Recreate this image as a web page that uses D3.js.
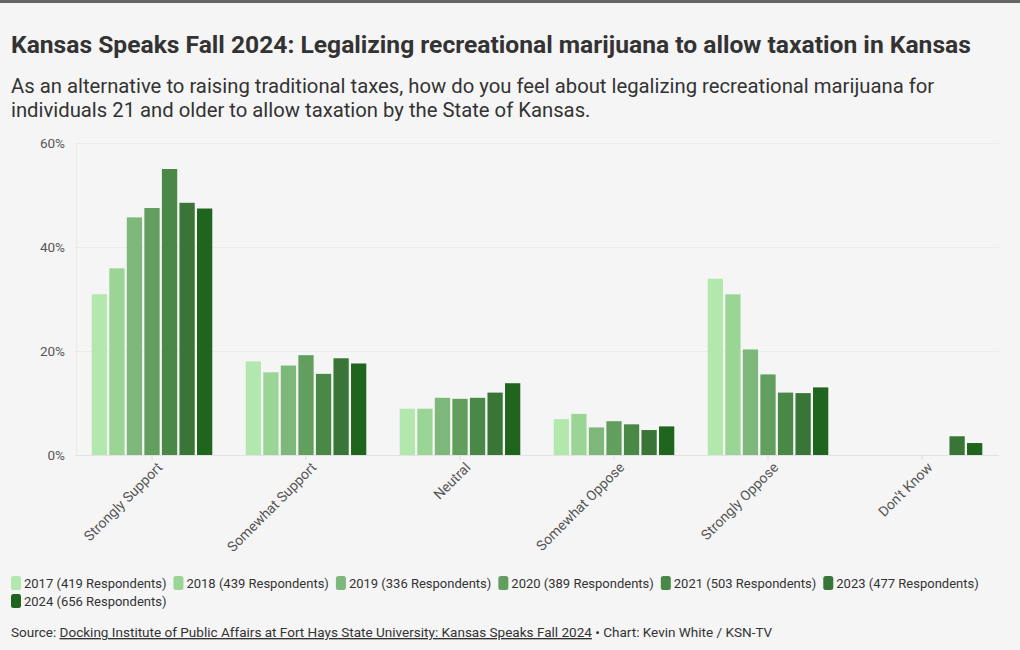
<!DOCTYPE html>
<html>
<head>
<meta charset="utf-8">
<script src="https://cdn.jsdelivr.net/npm/d3@7"></script>
<style>
  html, body { margin: 0; padding: 0; background: #f5f5f5; }
  svg { display: block; font-family: Roboto, "Noto Sans", sans-serif; }
</style>
</head>
<body>
<svg id="chart" width="1020" height="650"></svg>
<script>
const categories = ["Strongly Support", "Somewhat Support", "Neutral", "Somewhat Oppose", "Strongly Oppose", "Don't Know"];
const seriesNames = ["2017 (419 Respondents)", "2018 (439 Respondents)", "2019 (336 Respondents)", "2020 (389 Respondents)", "2021 (503 Respondents)", "2023 (477 Respondents)", "2024 (656 Respondents)"];
const seriesColors = ["#b2e8ae", "#9bd595", "#7eb77a", "#629e5e", "#4a8847", "#3a7538", "#20651d"];
// values per series, in category order (null = no bar)
const v2017 = [30.9, 18.0, 8.9, 6.9, 33.9, null];
const v2018 = [35.9, 15.9, 8.9, 7.9, 30.9, null];
const v2019 = [45.7, 17.2, 11.0, 5.3, 20.3, null];
const v2020 = [47.5, 19.2, 10.8, 6.5, 15.5, null];
const v2021 = [55.0, 15.6, 11.0, 5.9, 12.0, null];
const v2023 = [48.5, 18.6, 12.0, 4.8, 11.9, 3.6];
const v2024 = [47.4, 17.6, 13.8, 5.5, 13.0, 2.3];
const seriesValues = [v2017, v2018, v2019, v2020, v2021, v2023, v2024];
const yTicks = [0, 20, 40, 60];

const svg = d3.select("#chart");
const W = 1020, H = 650;

svg.append("rect").attr("width", W).attr("height", H).attr("fill", "#f5f5f5");
svg.append("rect").attr("width", W).attr("height", 3).attr("fill", "#666666");

function fitText(sel, target, maxSize) {
  let size = maxSize;
  sel.style("font-size", size + "px");
  const len = sel.node().getComputedTextLength();
  if (len > 0) {
    size = size * target / len;
    sel.style("font-size", size + "px");
  }
}

// Title
const title = svg.append("text").attr("x", 11).attr("y", 53)
  .attr("fill", "#333333").attr("font-weight", 700)
  .text("Kansas Speaks Fall 2024: Legalizing recreational marijuana to allow taxation in Kansas");
fitText(title, 960, 22);

const sub1 = svg.append("text").attr("x", 11).attr("y", 93).attr("fill", "#333333")
  .text("As an alternative to raising traditional taxes, how do you feel about legalizing recreational marijuana for");
fitText(sub1, 924, 18);
const sub2 = svg.append("text").attr("x", 11).attr("y", 117).attr("fill", "#333333")
  .style("font-size", sub1.style("font-size"))
  .text("individuals 21 and older to allow taxation by the State of Kansas.");

// Scales
const pLeft = 75, pRight = 999, pTop = 143, pBottom = 455;
const y = d3.scaleLinear().domain([0, 60]).range([pBottom, pTop]);
const x0 = d3.scaleBand().domain(categories).range([pLeft, pRight]).paddingInner(0.217).paddingOuter(0.1085);
const x1 = d3.scaleBand().domain(d3.range(seriesNames.length)).range([0, x0.bandwidth()]).paddingInner(0.13);

// Grid
const grid = svg.append("g");
grid.selectAll("line.h").data(yTicks).join("line")
  .attr("x1", pLeft).attr("x2", pRight)
  .attr("y1", d => y(d) + 0.5).attr("y2", d => y(d) + 0.5)
  .attr("stroke", d => d === 0 ? "#e2e2e2" : "#ebebeb").attr("stroke-width", 1);
grid.append("line").attr("x1", pLeft + 1.5).attr("x2", pLeft + 1.5).attr("y1", pTop).attr("y2", pBottom)
  .attr("stroke", "#ebebeb");

// Y axis labels
const yAxis = d3.axisLeft(y).tickValues(yTicks).tickFormat(d => d + "%").tickSize(0).tickPadding(0);
const yg = svg.append("g").attr("transform", `translate(65,0)`).call(yAxis);
yg.select(".domain").remove();
yg.selectAll("text").attr("fill", "#555555").style("font-size", "13.5px").style("font-family", "Roboto, sans-serif")
  .attr("dy", "0.35em");

// X axis
const xAxis = d3.axisBottom(x0).tickSize(5).tickPadding(4);
const xg = svg.append("g").attr("transform", `translate(0,${pBottom})`).call(xAxis);
xg.select(".domain").remove();
xg.selectAll(".tick line").attr("stroke", "#dcdcdc");
xg.selectAll("text")
  .attr("fill", "#555555").style("font-size", "14px").style("font-family", "Roboto, sans-serif")
  .attr("text-anchor", "end").attr("dy", "0")
  .attr("transform", "translate(5,7) rotate(-45)");

// Bars
const groups = svg.append("g").selectAll("g").data(categories).join("g")
  .attr("transform", d => `translate(${x0(d)},0)`);
groups.selectAll("rect")
  .data((c, ci) => seriesValues.map((vals, si) => ({ si, v: vals[ci] })).filter(d => d.v != null))
  .join("rect")
  .attr("x", d => x1(d.si))
  .attr("width", x1.bandwidth())
  .attr("y", d => y(d.v))
  .attr("height", d => y(0) - y(d.v))
  .attr("fill", d => seriesColors[d.si]);

// Legend
const legend = svg.append("g");
let lx = 11, ly = 583;
seriesNames.forEach((name, i) => {
  const g = legend.append("g");
  const t = g.append("text").attr("y", ly + 5).attr("fill", "#333333").style("font-size", "13px").text(name);
  const w = t.node().getComputedTextLength();
  if (lx + 13 + w > 1000) { lx = 11; ly += 18; t.attr("y", ly + 5); }
  g.append("rect").attr("x", lx).attr("y", ly - 7).attr("width", 10).attr("height", 14).attr("rx", 2.5)
    .attr("fill", seriesColors[i]);
  t.attr("x", lx + 13);
  lx += 13 + w + 7;
});

// Source
const src = svg.append("text").attr("x", 11).attr("y", 637).attr("fill", "#333333").style("font-size", "12px");
src.append("tspan").text("Source: ");
src.append("tspan").attr("text-decoration", "underline")
  .text("Docking Institute of Public Affairs at Fort Hays State University: Kansas Speaks Fall 2024");
src.append("tspan").text(" \u2022 Chart: Kevin White / KSN-TV");
fitText(src, 762, 12);
</script>
</body>
</html>
